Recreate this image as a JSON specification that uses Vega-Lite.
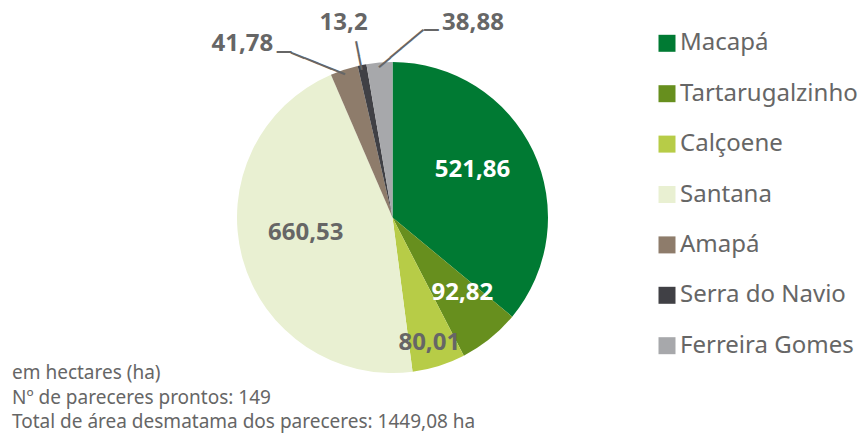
{
  "$schema": "https://vega.github.io/schema/vega-lite/v6.json",
  "width": 785,
  "height": 435,
  "autosize": {"type": "none"},
  "padding": {"left": 0, "top": 0, "right": 77, "bottom": 2},
  "background": "white",
  "config": {"view": {"stroke": null}},
  "title": {
    "text": ["em hectares (ha)", "Nº de pareceres prontos: 149", "Total de área desmatama dos pareceres: 1449,08 ha"],
    "orient": "bottom",
    "anchor": "start",
    "frame": "group",
    "offset": 0,
    "dx": 12,
    "dy": -71,
    "font": "Noto Sans",
    "fontSize": 19,
    "fontWeight": "normal",
    "color": "#666666",
    "lineHeight": 24.5
  },
  "data": {
    "values": [
      {"municipio": "Macapá", "valor": 521.86, "ordem": 1},
      {"municipio": "Tartarugalzinho", "valor": 92.82, "ordem": 2},
      {"municipio": "Calçoene", "valor": 80.01, "ordem": 3},
      {"municipio": "Santana", "valor": 660.53, "ordem": 4},
      {"municipio": "Amapá", "valor": 41.78, "ordem": 5},
      {"municipio": "Serra do Navio", "valor": 13.2, "ordem": 6},
      {"municipio": "Ferreira Gomes", "valor": 38.88, "ordem": 7}
    ]
  },
  "transform": [
    {"calculate": "replace(format(datum.valor, '.2~f'), '.', ',')", "as": "rotulo"}
  ],
  "encoding": {
    "theta": {"field": "valor", "type": "quantitative", "stack": true},
    "order": {"field": "ordem", "type": "quantitative"},
    "detail": {"field": "municipio", "type": "nominal"}
  },
  "layer": [
    {
      "mark": {"type": "arc", "outerRadius": 155.5},
      "encoding": {
        "color": {
          "field": "municipio",
          "type": "nominal",
          "sort": null,
          "scale": {
            "domain": ["Macapá", "Tartarugalzinho", "Calçoene", "Santana", "Amapá", "Serra do Navio", "Ferreira Gomes"],
            "range": ["#007A33", "#678F1E", "#B7CC47", "#E9F0D2", "#8E7C6B", "#404045", "#A7A8AB"]
          },
          "legend": {
            "orient": "none",
            "legendX": 655,
            "legendY": 31.3,
            "title": null,
            "padding": 0,
            "symbolType": "square",
            "symbolSize": 289,
            "symbolStrokeWidth": 0,
            "labelFont": "Noto Sans",
            "labelFontSize": 24,
            "labelColor": "#666666",
            "labelOffset": 1,
            "labelLimit": 400,
            "rowPadding": 26.4
          }
        }
      }
    },
    {
      "mark": {"type": "text", "radius": 94, "dx": -5, "dy": -7.5, "font": "Noto Sans", "fontSize": 24, "fontWeight": "bold", "color": "#ffffff"},
      "encoding": {"text": {"condition": {"test": "datum.municipio === 'Macapá'", "field": "rotulo"}, "value": ""}}
    },
    {
      "mark": {"type": "text", "radius": 105, "dx": 4, "dy": -6, "font": "Noto Sans", "fontSize": 24, "fontWeight": "bold", "color": "#ffffff"},
      "encoding": {"text": {"condition": {"test": "datum.municipio === 'Tartarugalzinho'", "field": "rotulo"}, "value": ""}}
    },
    {
      "mark": {"type": "text", "radius": 130, "dx": -2, "dy": 1, "font": "Noto Sans", "fontSize": 24, "fontWeight": "bold", "color": "#666666"},
      "encoding": {"text": {"condition": {"test": "datum.municipio === 'Calçoene'", "field": "rotulo"}, "value": ""}}
    },
    {
      "mark": {"type": "text", "radius": 90, "dx": 0, "dy": -8, "font": "Noto Sans", "fontSize": 24, "fontWeight": "bold", "color": "#666666"},
      "encoding": {"text": {"condition": {"test": "datum.municipio === 'Santana'", "field": "rotulo"}, "value": ""}}
    },
    {
      "mark": {"type": "text", "radius": 190, "dx": -91, "dy": 7.5, "font": "Noto Sans", "fontSize": 24, "fontWeight": "bold", "color": "#666666"},
      "encoding": {"text": {"condition": {"test": "datum.municipio === 'Amapá'", "field": "rotulo"}, "value": ""}}
    },
    {
      "mark": {"type": "text", "radius": 196, "dx": -10.5, "dy": -2.3, "font": "Noto Sans", "fontSize": 24, "fontWeight": "bold", "color": "#666666"},
      "encoding": {"text": {"condition": {"test": "datum.municipio === 'Serra do Navio'", "field": "rotulo"}, "value": ""}}
    },
    {
      "mark": {"type": "text", "radius": 196, "dx": 97, "dy": 1, "font": "Noto Sans", "fontSize": 24, "fontWeight": "bold", "color": "#666666"},
      "encoding": {"text": {"condition": {"test": "datum.municipio === 'Ferreira Gomes'", "field": "rotulo"}, "value": ""}}
    },
    {
      "mark": {"type": "text", "radius": 152, "angle": 201.9, "align": "left", "baseline": "middle", "font": "DejaVu Sans", "fontSize": 24, "color": "#666666"},
      "encoding": {"text": {"condition": {"test": "datum.municipio === 'Amapá'", "value": "────"}, "value": ""}}
    },
    {
      "mark": {"type": "text", "radius": 152, "angle": 180, "dx": 53.6, "dy": 21.6, "align": "left", "baseline": "middle", "font": "DejaVu Sans", "fontSize": 24, "color": "#666666"},
      "encoding": {"text": {"condition": {"test": "datum.municipio === 'Amapá'", "value": "─"}, "value": ""}}
    },
    {
      "mark": {"type": "text", "radius": 151, "angle": 258.7, "align": "left", "baseline": "middle", "font": "DejaVu Sans", "fontSize": 24, "color": "#666666"},
      "encoding": {"text": {"condition": {"test": "datum.municipio === 'Serra do Navio'", "value": "──"}, "value": ""}}
    },
    {
      "mark": {"type": "text", "radius": 150, "angle": 319.9, "align": "left", "baseline": "middle", "font": "DejaVu Sans", "fontSize": 24, "color": "#666666"},
      "encoding": {"text": {"condition": {"test": "datum.municipio === 'Ferreira Gomes'", "value": "────"}, "value": ""}}
    },
    {
      "mark": {"type": "text", "radius": 150, "angle": 0, "dx": 44.2, "dy": -37.2, "align": "left", "baseline": "middle", "font": "DejaVu Sans", "fontSize": 24, "color": "#666666"},
      "encoding": {"text": {"condition": {"test": "datum.municipio === 'Ferreira Gomes'", "value": "─"}, "value": ""}}
    }
  ]
}
